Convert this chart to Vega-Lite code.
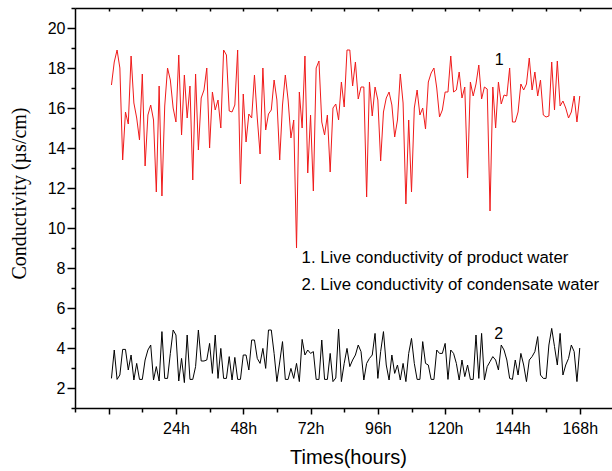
{
 "$schema": "https://vega.github.io/schema/vega-lite/v6.json",
 "width": 537, "height": 400,
 "autosize": "none",
 "padding": {"left": 75, "top": 8, "right": 0, "bottom": 63},
 "background": "white",
 "config": {"view": {"stroke": null}, "font": "Liberation Sans"},
 "datasets": {
  "series": [
   {"h":1,"p":17.15,"c":2.48},{"h":2,"p":18.3,"c":3.9},{"h":3,"p":18.9,"c":2.43},{"h":4,"p":18.0,"c":2.65},{"h":5,"p":13.4,"c":3.93},{"h":6,"p":15.8,"c":3.93},{"h":7,"p":15.2,"c":2.9},{"h":8,"p":18.6,"c":3.65},{"h":9,"p":16.25,"c":2.4},{"h":10,"p":15.5,"c":3.23},
   {"h":11,"p":14.4,"c":2.43},{"h":12,"p":17.7,"c":2.43},{"h":13,"p":13.1,"c":3.4},{"h":14,"p":15.65,"c":3.9},{"h":15,"p":16.15,"c":4.15},{"h":16,"p":15.4,"c":2.4},{"h":17,"p":11.8,"c":3.07},{"h":18,"p":17.1,"c":2.35},{"h":19,"p":11.6,"c":4.82},{"h":20,"p":16.1,"c":2.48},
   {"h":21,"p":18.0,"c":2.48},{"h":22,"p":17.4,"c":3.73},{"h":23,"p":16.0,"c":4.9},{"h":24,"p":15.3,"c":4.65},{"h":25,"p":18.65,"c":2.35},{"h":26,"p":14.65,"c":3.48},{"h":27,"p":17.65,"c":2.27},{"h":28,"p":15.5,"c":4.65},{"h":29,"p":17.1,"c":2.43},{"h":30,"p":12.4,"c":2.43},
   {"h":31,"p":17.7,"c":3.07},{"h":32,"p":13.9,"c":4.9},{"h":33,"p":16.5,"c":3.35},{"h":34,"p":16.9,"c":3.35},{"h":35,"p":18.0,"c":3.4},{"h":36,"p":14.0,"c":4.23},{"h":37,"p":16.8,"c":2.73},{"h":38,"p":15.9,"c":4.65},{"h":39,"p":16.4,"c":2.48},{"h":40,"p":15.0,"c":3.98},
   {"h":41,"p":18.9,"c":2.48},{"h":42,"p":18.65,"c":2.48},{"h":43,"p":15.85,"c":3.57},{"h":44,"p":15.8,"c":2.4},{"h":45,"p":16.15,"c":3.53},{"h":46,"p":18.9,"c":2.43},{"h":47,"p":12.2,"c":2.43},{"h":48,"p":16.7,"c":3.65},{"h":49,"p":14.3,"c":3.65},{"h":50,"p":15.7,"c":2.9},
   {"h":51,"p":15.5,"c":4.4},{"h":52,"p":17.65,"c":4.4},{"h":53,"p":15.5,"c":3.48},{"h":54,"p":13.7,"c":3.23},{"h":55,"p":18.0,"c":3.98},{"h":56,"p":14.9,"c":2.98},{"h":57,"p":15.7,"c":4.9},{"h":58,"p":15.9,"c":4.9},{"h":59,"p":17.4,"c":3.73},{"h":60,"p":16.4,"c":2.32},
   {"h":61,"p":13.4,"c":3.3},{"h":62,"p":16.15,"c":4.32},{"h":63,"p":17.65,"c":2.43},{"h":64,"p":16.4,"c":2.43},{"h":65,"p":14.5,"c":2.98},{"h":66,"p":15.4,"c":2.48},{"h":67,"p":9.0,"c":3.23},{"h":68,"p":16.8,"c":2.32},{"h":69,"p":15.0,"c":4.43},{"h":70,"p":18.6,"c":3.65},
   {"h":71,"p":12.75,"c":3.9},{"h":72,"p":15.65,"c":3.73},{"h":73,"p":11.85,"c":3.82},{"h":74,"p":18.0,"c":2.43},{"h":75,"p":18.35,"c":2.43},{"h":76,"p":15.3,"c":4.4},{"h":77,"p":14.65,"c":2.43},{"h":78,"p":15.65,"c":2.43},{"h":79,"p":12.8,"c":3.73},{"h":80,"p":16.0,"c":2.32},
   {"h":81,"p":16.2,"c":2.5},{"h":82,"p":15.4,"c":4.95},{"h":83,"p":17.3,"c":2.32},{"h":84,"p":16.05,"c":3.23},{"h":85,"p":18.9,"c":3.98},{"h":86,"p":18.9,"c":3.07},{"h":87,"p":17.1,"c":3.4},{"h":88,"p":18.3,"c":3.65},{"h":89,"p":16.45,"c":4.15},{"h":90,"p":17.05,"c":3.82},
   {"h":91,"p":17.05,"c":2.4},{"h":92,"p":11.55,"c":3.23},{"h":93,"p":17.3,"c":3.48},{"h":94,"p":15.6,"c":3.65},{"h":95,"p":17.05,"c":4.73},{"h":96,"p":16.4,"c":2.48},{"h":97,"p":13.35,"c":3.82},{"h":98,"p":15.8,"c":4.82},{"h":99,"p":16.5,"c":3.15},{"h":100,"p":16.8,"c":2.4},
   {"h":101,"p":16.15,"c":3.65},{"h":102,"p":14.55,"c":2.73},{"h":103,"p":15.4,"c":3.15},{"h":104,"p":17.7,"c":2.4},{"h":105,"p":16.25,"c":3.23},{"h":106,"p":11.2,"c":2.32},{"h":107,"p":15.4,"c":3.73},{"h":108,"p":11.8,"c":4.48},{"h":109,"p":16.0,"c":3.23},{"h":110,"p":16.9,"c":2.43},
   {"h":111,"p":15.65,"c":2.43},{"h":112,"p":16.0,"c":4.32},{"h":113,"p":14.95,"c":3.23},{"h":114,"p":17.3,"c":3.15},{"h":115,"p":17.75,"c":2.43},{"h":116,"p":18.0,"c":2.43},{"h":117,"p":17.0,"c":3.9},{"h":118,"p":15.55,"c":3.73},{"h":119,"p":15.9,"c":3.73},{"h":120,"p":16.8,"c":4.23},
   {"h":121,"p":16.8,"c":2.43},{"h":122,"p":18.6,"c":3.9},{"h":123,"p":16.8,"c":3.73},{"h":124,"p":16.9,"c":3.23},{"h":125,"p":17.8,"c":2.4},{"h":126,"p":16.5,"c":3.4},{"h":127,"p":17.05,"c":2.57},{"h":128,"p":12.5,"c":3.15},{"h":129,"p":17.3,"c":2.43},{"h":130,"p":16.6,"c":2.43},
   {"h":131,"p":17.2,"c":4.65},{"h":132,"p":18.15,"c":2.48},{"h":133,"p":16.45,"c":4.73},{"h":134,"p":17.05,"c":2.4},{"h":135,"p":16.95,"c":3.07},{"h":136,"p":10.85,"c":3.32},{"h":137,"p":17.05,"c":3.57},{"h":138,"p":15.0,"c":3.4},{"h":139,"p":17.3,"c":2.9},{"h":140,"p":16.2,"c":4.15},
   {"h":141,"p":16.65,"c":3.9},{"h":142,"p":16.6,"c":3.4},{"h":143,"p":18.0,"c":2.48},{"h":144,"p":15.3,"c":2.43},{"h":145,"p":15.3,"c":3.4},{"h":146,"p":15.8,"c":2.65},{"h":147,"p":17.2,"c":3.73},{"h":148,"p":16.9,"c":3.15},{"h":149,"p":17.2,"c":2.32},{"h":150,"p":18.5,"c":3.4},
   {"h":151,"p":16.9,"c":3.57},{"h":152,"p":17.8,"c":3.82},{"h":153,"p":16.6,"c":4.57},{"h":154,"p":17.4,"c":2.65},{"h":155,"p":15.65,"c":2.48},{"h":156,"p":15.55,"c":2.48},{"h":157,"p":15.6,"c":4.15},{"h":158,"p":18.3,"c":4.98},{"h":159,"p":15.9,"c":4.07},{"h":160,"p":18.35,"c":3.15},
   {"h":161,"p":16.1,"c":4.73},{"h":162,"p":16.35,"c":2.65},{"h":163,"p":16.0,"c":3.15},{"h":164,"p":15.5,"c":3.48},{"h":165,"p":15.8,"c":4.15},{"h":166,"p":16.6,"c":3.82},{"h":167,"p":15.3,"c":2.32},{"h":168,"p":16.6,"c":4.0}
  ]
 },
 "data": {"name": "series"},
 "layer": [
  {
   "mark": {"type": "line", "color": "#f01a1a", "strokeWidth": 1},
   "encoding": {
    "x": {"field": "h", "type": "quantitative",
     "scale": {"domain": [-12, 179.5], "nice": false, "zero": false},
     "axis": {"orient": "bottom", "grid": false,
      "values": [-12,0,12,24,36,48,60,72,84,96,108,120,132,144,156,168],
      "labelExpr": "datum.value > 0 && datum.value % 24 === 0 ? datum.value + 'h' : ''",
      "tickSize": {"condition": {"test": "datum.value % 24 === 0", "value": 6}, "value": 4},
      "tickColor": "black", "tickWidth": 1.5, "domainColor": "black", "domainWidth": 1.5,
      "labelFont": "Liberation Sans", "labelFontSize": 16, "labelColor": "black", "labelPadding": 6,
      "labelOverlap": false, "labelFlush": false,
      "title": "Times(hours)", "titleFont": "Liberation Sans", "titleFontSize": 20, "titleFontWeight": "normal", "titleColor": "black",
      "titleX": 273, "titleY": 55, "titleBaseline": "alphabetic", "titleAlign": "center"}},
    "y": {"field": "p", "type": "quantitative",
     "scale": {"domain": [1, 21], "nice": false, "zero": false},
     "axis": {"orient": "left", "grid": false,
      "values": [1,2,3,4,5,6,7,8,9,10,11,12,13,14,15,16,17,18,19,20,21],
      "labelExpr": "datum.value % 2 === 0 ? datum.value : ''",
      "tickSize": {"condition": {"test": "datum.value % 2 === 0", "value": 8}, "value": 4},
      "tickColor": "black", "tickWidth": 1.5, "domainColor": "black", "domainWidth": 1.5,
      "labelFont": "Liberation Sans", "labelFontSize": 16, "labelColor": "black", "labelPadding": 2,
      "labelOverlap": false, "labelFlush": false,
      "title": "Conductivity (µs/cm)", "titleFont": "Liberation Serif", "titleFontSize": 20, "titleFontWeight": "normal", "titleColor": "black",
      "titleX": -50, "titleY": 185, "titleAngle": 270, "titleBaseline": "alphabetic", "titleAlign": "center"}}
   }
  },
  {
   "mark": {"type": "line", "color": "black", "strokeWidth": 1},
   "encoding": {
    "x": {"field": "h", "type": "quantitative",
     "axis": {"orient": "top", "grid": false, "labels": false, "title": null,
      "values": [0,12,24,36,48,60,72,84,96,108,120,132,144,156,168],
      "tickSize": -3, "tickColor": "black", "tickWidth": 1.5, "domainColor": "black", "domainWidth": 1.5}},
    "y": {"field": "c", "type": "quantitative", "axis": null}
   }
  },
  {
   "data": {"values": [{"h": 139.3, "v": 18.4, "t": "1"}, {"h": 139.1, "v": 4.68, "t": "2"}]},
   "mark": {"type": "text", "font": "Liberation Sans", "fontSize": 16, "align": "center", "baseline": "middle", "color": "black"},
   "encoding": {
    "x": {"field": "h", "type": "quantitative", "axis": null},
    "y": {"field": "v", "type": "quantitative", "axis": null},
    "text": {"field": "t"}
   }
  },
  {
   "data": {"values": [{"h": 68.8, "v": 8.5, "t": "1. Live conductivity of product water"}, {"h": 68.8, "v": 7.15, "t": "2. Live conductivity of condensate water"}]},
   "mark": {"type": "text", "font": "Liberation Sans", "fontSize": 16.8, "align": "left", "baseline": "middle", "color": "black"},
   "encoding": {
    "x": {"field": "h", "type": "quantitative", "axis": null},
    "y": {"field": "v", "type": "quantitative", "axis": null},
    "text": {"field": "t"}
   }
  }
 ],
 "resolve": {"axis": {"x": "independent", "y": "independent"}}
}
